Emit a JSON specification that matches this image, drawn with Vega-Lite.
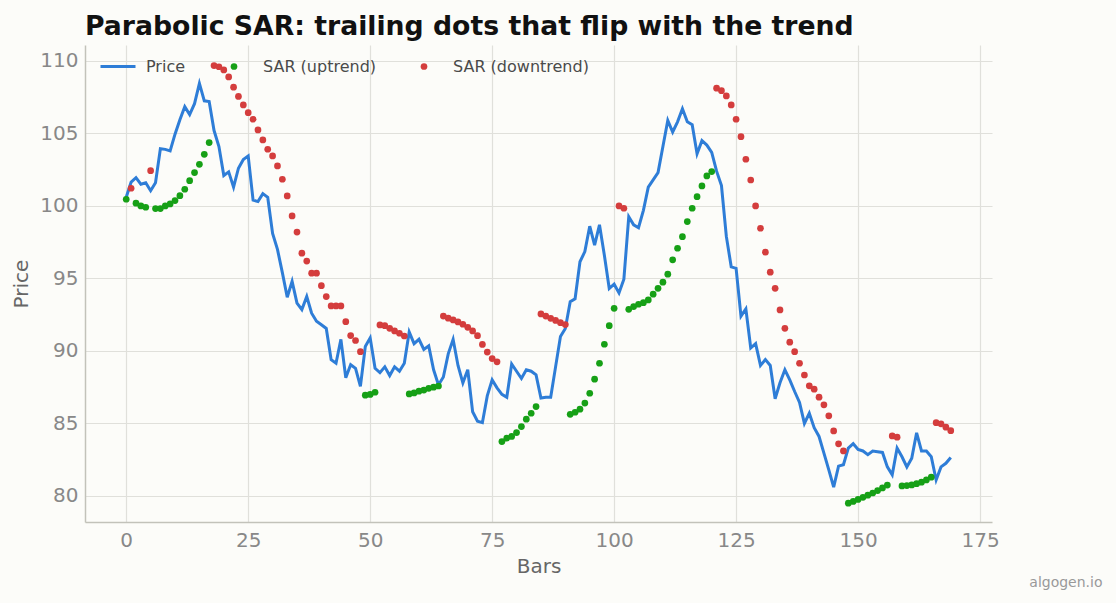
{
  "$schema": "https://vega.github.io/schema/vega-lite/v6.json",
  "autosize": {"type": "none"},
  "width": 907,
  "height": 477,
  "padding": {"left": 85, "top": 45, "right": 124, "bottom": 81},
  "background": "#fcfcf9",
  "title": {
    "text": "Parabolic SAR: trailing dots that flip with the trend",
    "anchor": "start",
    "frame": "group",
    "font": "DejaVu Sans",
    "fontSize": 26.7,
    "fontWeight": "bold",
    "color": "#111111",
    "offset": 4
  },
  "config": {
    "view": {"stroke": null},
    "font": "DejaVu Sans",
    "axis": {
      "labelFont": "DejaVu Sans",
      "titleFont": "DejaVu Sans",
      "labelFontSize": 20,
      "titleFontSize": 20,
      "labelColor": "#888888",
      "titleColor": "#666666",
      "titleFontWeight": "normal",
      "gridColor": "#e0e0db",
      "gridWidth": 1.2,
      "domainColor": "#c2c2ba",
      "domainWidth": 1.5,
      "ticks": false
    },
    "legend": {
      "labelFont": "DejaVu Sans",
      "labelFontSize": 16,
      "labelColor": "#4a4a4a",
      "padding": 0,
      "title": null
    }
  },
  "data": {
    "values": [
      {"bar":0,"price":100.6,"sar":100.46,"trend":"SAR (uptrend)"},
      {"bar":1,"price":101.65,"sar":101.22,"trend":"SAR (downtrend)"},
      {"bar":2,"price":101.95,"sar":100.19,"trend":"SAR (uptrend)"},
      {"bar":3,"price":101.5,"sar":100.0,"trend":"SAR (uptrend)"},
      {"bar":4,"price":101.6,"sar":99.91,"trend":"SAR (uptrend)"},
      {"bar":5,"price":101.05,"sar":102.43,"trend":"SAR (downtrend)"},
      {"bar":6,"price":101.6,"sar":99.82,"trend":"SAR (uptrend)"},
      {"bar":7,"price":103.95,"sar":99.82,"trend":"SAR (uptrend)"},
      {"bar":8,"price":103.9,"sar":100.0,"trend":"SAR (uptrend)"},
      {"bar":9,"price":103.8,"sar":100.14,"trend":"SAR (uptrend)"},
      {"bar":10,"price":104.95,"sar":100.37,"trend":"SAR (uptrend)"},
      {"bar":11,"price":105.95,"sar":100.71,"trend":"SAR (uptrend)"},
      {"bar":12,"price":106.85,"sar":101.15,"trend":"SAR (uptrend)"},
      {"bar":13,"price":106.3,"sar":101.74,"trend":"SAR (uptrend)"},
      {"bar":14,"price":107.05,"sar":102.3,"trend":"SAR (uptrend)"},
      {"bar":15,"price":108.45,"sar":102.87,"trend":"SAR (uptrend)"},
      {"bar":16,"price":107.25,"sar":103.56,"trend":"SAR (uptrend)"},
      {"bar":17,"price":107.2,"sar":104.37,"trend":"SAR (uptrend)"},
      {"bar":18,"price":105.2,"sar":109.68,"trend":"SAR (downtrend)"},
      {"bar":19,"price":104.1,"sar":109.6,"trend":"SAR (downtrend)"},
      {"bar":20,"price":102.1,"sar":109.38,"trend":"SAR (downtrend)"},
      {"bar":21,"price":102.35,"sar":108.9,"trend":"SAR (downtrend)"},
      {"bar":22,"price":101.3,"sar":108.19,"trend":"SAR (downtrend)"},
      {"bar":23,"price":102.6,"sar":107.55,"trend":"SAR (downtrend)"},
      {"bar":24,"price":103.2,"sar":106.97,"trend":"SAR (downtrend)"},
      {"bar":25,"price":103.45,"sar":106.43,"trend":"SAR (downtrend)"},
      {"bar":26,"price":100.4,"sar":105.98,"trend":"SAR (downtrend)"},
      {"bar":27,"price":100.3,"sar":105.24,"trend":"SAR (downtrend)"},
      {"bar":28,"price":100.85,"sar":104.55,"trend":"SAR (downtrend)"},
      {"bar":29,"price":100.6,"sar":103.91,"trend":"SAR (downtrend)"},
      {"bar":30,"price":98.1,"sar":103.45,"trend":"SAR (downtrend)"},
      {"bar":31,"price":97.0,"sar":102.76,"trend":"SAR (downtrend)"},
      {"bar":32,"price":95.4,"sar":101.84,"trend":"SAR (downtrend)"},
      {"bar":33,"price":93.7,"sar":100.69,"trend":"SAR (downtrend)"},
      {"bar":34,"price":94.8,"sar":99.31,"trend":"SAR (downtrend)"},
      {"bar":35,"price":93.3,"sar":98.2,"trend":"SAR (downtrend)"},
      {"bar":36,"price":92.85,"sar":96.74,"trend":"SAR (downtrend)"},
      {"bar":37,"price":93.75,"sar":96.2,"trend":"SAR (downtrend)"},
      {"bar":38,"price":92.6,"sar":95.36,"trend":"SAR (downtrend)"},
      {"bar":39,"price":92.05,"sar":95.36,"trend":"SAR (downtrend)"},
      {"bar":40,"price":91.8,"sar":94.5,"trend":"SAR (downtrend)"},
      {"bar":41,"price":91.55,"sar":93.75,"trend":"SAR (downtrend)"},
      {"bar":42,"price":89.4,"sar":93.1,"trend":"SAR (downtrend)"},
      {"bar":43,"price":89.15,"sar":93.1,"trend":"SAR (downtrend)"},
      {"bar":44,"price":90.8,"sar":93.1,"trend":"SAR (downtrend)"},
      {"bar":45,"price":88.15,"sar":92.02,"trend":"SAR (downtrend)"},
      {"bar":46,"price":89.05,"sar":91.06,"trend":"SAR (downtrend)"},
      {"bar":47,"price":88.8,"sar":90.72,"trend":"SAR (downtrend)"},
      {"bar":48,"price":87.55,"sar":89.95,"trend":"SAR (downtrend)"},
      {"bar":49,"price":90.3,"sar":86.95,"trend":"SAR (uptrend)"},
      {"bar":50,"price":90.9,"sar":87.0,"trend":"SAR (uptrend)"},
      {"bar":51,"price":88.8,"sar":87.15,"trend":"SAR (uptrend)"},
      {"bar":52,"price":88.5,"sar":91.79,"trend":"SAR (downtrend)"},
      {"bar":53,"price":88.9,"sar":91.74,"trend":"SAR (downtrend)"},
      {"bar":54,"price":88.3,"sar":91.56,"trend":"SAR (downtrend)"},
      {"bar":55,"price":88.9,"sar":91.38,"trend":"SAR (downtrend)"},
      {"bar":56,"price":88.6,"sar":91.22,"trend":"SAR (downtrend)"},
      {"bar":57,"price":89.15,"sar":91.03,"trend":"SAR (downtrend)"},
      {"bar":58,"price":91.3,"sar":87.03,"trend":"SAR (uptrend)"},
      {"bar":59,"price":90.5,"sar":87.1,"trend":"SAR (uptrend)"},
      {"bar":60,"price":90.8,"sar":87.22,"trend":"SAR (uptrend)"},
      {"bar":61,"price":90.1,"sar":87.3,"trend":"SAR (uptrend)"},
      {"bar":62,"price":90.35,"sar":87.42,"trend":"SAR (uptrend)"},
      {"bar":63,"price":88.7,"sar":87.5,"trend":"SAR (uptrend)"},
      {"bar":64,"price":87.65,"sar":87.58,"trend":"SAR (uptrend)"},
      {"bar":65,"price":88.2,"sar":92.4,"trend":"SAR (downtrend)"},
      {"bar":66,"price":89.8,"sar":92.26,"trend":"SAR (downtrend)"},
      {"bar":67,"price":90.8,"sar":92.14,"trend":"SAR (downtrend)"},
      {"bar":68,"price":89.0,"sar":92.0,"trend":"SAR (downtrend)"},
      {"bar":69,"price":87.8,"sar":91.84,"trend":"SAR (downtrend)"},
      {"bar":70,"price":88.7,"sar":91.63,"trend":"SAR (downtrend)"},
      {"bar":71,"price":85.8,"sar":91.38,"trend":"SAR (downtrend)"},
      {"bar":72,"price":85.15,"sar":91.05,"trend":"SAR (downtrend)"},
      {"bar":73,"price":85.05,"sar":90.45,"trend":"SAR (downtrend)"},
      {"bar":74,"price":86.9,"sar":89.92,"trend":"SAR (downtrend)"},
      {"bar":75,"price":88.0,"sar":89.47,"trend":"SAR (downtrend)"},
      {"bar":76,"price":87.45,"sar":89.25,"trend":"SAR (downtrend)"},
      {"bar":77,"price":87.0,"sar":83.75,"trend":"SAR (uptrend)"},
      {"bar":78,"price":86.8,"sar":83.98,"trend":"SAR (uptrend)"},
      {"bar":79,"price":89.1,"sar":84.1,"trend":"SAR (uptrend)"},
      {"bar":80,"price":88.6,"sar":84.37,"trend":"SAR (uptrend)"},
      {"bar":81,"price":88.1,"sar":84.78,"trend":"SAR (uptrend)"},
      {"bar":82,"price":88.7,"sar":85.29,"trend":"SAR (uptrend)"},
      {"bar":83,"price":88.6,"sar":85.7,"trend":"SAR (uptrend)"},
      {"bar":84,"price":88.35,"sar":86.16,"trend":"SAR (uptrend)"},
      {"bar":85,"price":86.75,"sar":92.55,"trend":"SAR (downtrend)"},
      {"bar":86,"price":86.8,"sar":92.4,"trend":"SAR (downtrend)"},
      {"bar":87,"price":86.8,"sar":92.25,"trend":"SAR (downtrend)"},
      {"bar":88,"price":88.9,"sar":92.1,"trend":"SAR (downtrend)"},
      {"bar":89,"price":91.0,"sar":91.95,"trend":"SAR (downtrend)"},
      {"bar":90,"price":91.55,"sar":91.82,"trend":"SAR (downtrend)"},
      {"bar":91,"price":93.4,"sar":85.63,"trend":"SAR (uptrend)"},
      {"bar":92,"price":93.6,"sar":85.77,"trend":"SAR (uptrend)"},
      {"bar":93,"price":96.15,"sar":85.98,"trend":"SAR (uptrend)"},
      {"bar":94,"price":96.85,"sar":86.4,"trend":"SAR (uptrend)"},
      {"bar":95,"price":98.6,"sar":87.08,"trend":"SAR (uptrend)"},
      {"bar":96,"price":97.3,"sar":88.05,"trend":"SAR (uptrend)"},
      {"bar":97,"price":98.7,"sar":89.15,"trend":"SAR (uptrend)"},
      {"bar":98,"price":96.6,"sar":90.46,"trend":"SAR (uptrend)"},
      {"bar":99,"price":94.3,"sar":91.74,"trend":"SAR (uptrend)"},
      {"bar":100,"price":94.6,"sar":92.94,"trend":"SAR (uptrend)"},
      {"bar":101,"price":94.0,"sar":100.0,"trend":"SAR (downtrend)"},
      {"bar":102,"price":94.95,"sar":99.84,"trend":"SAR (downtrend)"},
      {"bar":103,"price":99.25,"sar":92.87,"trend":"SAR (uptrend)"},
      {"bar":104,"price":98.7,"sar":93.06,"trend":"SAR (uptrend)"},
      {"bar":105,"price":98.5,"sar":93.22,"trend":"SAR (uptrend)"},
      {"bar":106,"price":99.7,"sar":93.33,"trend":"SAR (uptrend)"},
      {"bar":107,"price":101.3,"sar":93.52,"trend":"SAR (uptrend)"},
      {"bar":108,"price":101.8,"sar":93.91,"trend":"SAR (uptrend)"},
      {"bar":109,"price":102.3,"sar":94.32,"trend":"SAR (uptrend)"},
      {"bar":110,"price":104.1,"sar":94.74,"trend":"SAR (uptrend)"},
      {"bar":111,"price":105.9,"sar":95.29,"trend":"SAR (uptrend)"},
      {"bar":112,"price":105.1,"sar":96.28,"trend":"SAR (uptrend)"},
      {"bar":113,"price":105.8,"sar":97.08,"trend":"SAR (uptrend)"},
      {"bar":114,"price":106.7,"sar":97.88,"trend":"SAR (uptrend)"},
      {"bar":115,"price":105.8,"sar":98.92,"trend":"SAR (uptrend)"},
      {"bar":116,"price":105.6,"sar":99.84,"trend":"SAR (uptrend)"},
      {"bar":117,"price":103.6,"sar":100.64,"trend":"SAR (uptrend)"},
      {"bar":118,"price":104.5,"sar":101.38,"trend":"SAR (uptrend)"},
      {"bar":119,"price":104.2,"sar":102.07,"trend":"SAR (uptrend)"},
      {"bar":120,"price":103.7,"sar":102.37,"trend":"SAR (uptrend)"},
      {"bar":121,"price":102.4,"sar":108.12,"trend":"SAR (downtrend)"},
      {"bar":122,"price":101.4,"sar":107.95,"trend":"SAR (downtrend)"},
      {"bar":123,"price":97.9,"sar":107.59,"trend":"SAR (downtrend)"},
      {"bar":124,"price":95.8,"sar":106.97,"trend":"SAR (downtrend)"},
      {"bar":125,"price":95.7,"sar":105.98,"trend":"SAR (downtrend)"},
      {"bar":126,"price":92.4,"sar":104.78,"trend":"SAR (downtrend)"},
      {"bar":127,"price":92.9,"sar":103.22,"trend":"SAR (downtrend)"},
      {"bar":128,"price":90.2,"sar":101.79,"trend":"SAR (downtrend)"},
      {"bar":129,"price":90.5,"sar":100.0,"trend":"SAR (downtrend)"},
      {"bar":130,"price":89.0,"sar":98.46,"trend":"SAR (downtrend)"},
      {"bar":131,"price":89.4,"sar":96.81,"trend":"SAR (downtrend)"},
      {"bar":132,"price":89.0,"sar":95.43,"trend":"SAR (downtrend)"},
      {"bar":133,"price":86.7,"sar":94.32,"trend":"SAR (downtrend)"},
      {"bar":134,"price":87.8,"sar":92.83,"trend":"SAR (downtrend)"},
      {"bar":135,"price":88.7,"sar":91.56,"trend":"SAR (downtrend)"},
      {"bar":136,"price":88.0,"sar":90.6,"trend":"SAR (downtrend)"},
      {"bar":137,"price":87.2,"sar":89.95,"trend":"SAR (downtrend)"},
      {"bar":138,"price":86.45,"sar":89.15,"trend":"SAR (downtrend)"},
      {"bar":139,"price":85.0,"sar":88.34,"trend":"SAR (downtrend)"},
      {"bar":140,"price":85.7,"sar":87.59,"trend":"SAR (downtrend)"},
      {"bar":141,"price":84.7,"sar":87.36,"trend":"SAR (downtrend)"},
      {"bar":142,"price":84.1,"sar":86.81,"trend":"SAR (downtrend)"},
      {"bar":143,"price":82.95,"sar":86.28,"trend":"SAR (downtrend)"},
      {"bar":144,"price":81.8,"sar":85.52,"trend":"SAR (downtrend)"},
      {"bar":145,"price":80.6,"sar":84.48,"trend":"SAR (downtrend)"},
      {"bar":146,"price":82.05,"sar":83.59,"trend":"SAR (downtrend)"},
      {"bar":147,"price":82.15,"sar":83.1,"trend":"SAR (downtrend)"},
      {"bar":148,"price":83.3,"sar":79.5,"trend":"SAR (uptrend)"},
      {"bar":149,"price":83.6,"sar":79.62,"trend":"SAR (uptrend)"},
      {"bar":150,"price":83.2,"sar":79.76,"trend":"SAR (uptrend)"},
      {"bar":151,"price":83.1,"sar":79.9,"trend":"SAR (uptrend)"},
      {"bar":152,"price":82.85,"sar":80.05,"trend":"SAR (uptrend)"},
      {"bar":153,"price":83.1,"sar":80.2,"trend":"SAR (uptrend)"},
      {"bar":154,"price":83.05,"sar":80.37,"trend":"SAR (uptrend)"},
      {"bar":155,"price":83.0,"sar":80.55,"trend":"SAR (uptrend)"},
      {"bar":156,"price":82.0,"sar":80.75,"trend":"SAR (uptrend)"},
      {"bar":157,"price":81.45,"sar":84.14,"trend":"SAR (downtrend)"},
      {"bar":158,"price":83.3,"sar":84.05,"trend":"SAR (downtrend)"},
      {"bar":159,"price":82.7,"sar":80.69,"trend":"SAR (uptrend)"},
      {"bar":160,"price":82.0,"sar":80.71,"trend":"SAR (uptrend)"},
      {"bar":161,"price":82.6,"sar":80.76,"trend":"SAR (uptrend)"},
      {"bar":162,"price":84.35,"sar":80.84,"trend":"SAR (uptrend)"},
      {"bar":163,"price":83.1,"sar":80.95,"trend":"SAR (uptrend)"},
      {"bar":164,"price":83.1,"sar":81.1,"trend":"SAR (uptrend)"},
      {"bar":165,"price":82.7,"sar":81.29,"trend":"SAR (uptrend)"},
      {"bar":166,"price":81.1,"sar":85.05,"trend":"SAR (downtrend)"},
      {"bar":167,"price":82.0,"sar":84.97,"trend":"SAR (downtrend)"},
      {"bar":168,"price":82.25,"sar":84.74,"trend":"SAR (downtrend)"},
      {"bar":169,"price":82.65,"sar":84.5,"trend":"SAR (downtrend)"}
    ]
  },
  "resolve": {"axis": {"y": "independent"}},
  "layer": [
    {
      "mark": {"type": "line", "strokeWidth": 3, "clip": true},
      "encoding": {
        "x": {
          "field": "bar", "type": "quantitative",
          "scale": {"domain": [-8.45, 177.45], "nice": false, "zero": false},
          "axis": {"title": "Bars", "values": [0,25,50,75,100,125,150,175], "labelPadding": 8, "titlePadding": 6, "grid": true}
        },
        "y": {
          "field": "price", "type": "quantitative",
          "scale": {"domain": [78.2, 111.1], "nice": false, "zero": false},
          "axis": {"title": "Price", "values": [80,85,90,95,100,105,110], "labelPadding": 7, "titlePadding": 8, "grid": true}
        },
        "stroke": {
          "datum": "Price",
          "type": "nominal",
          "scale": {"domain": ["Price"], "range": ["#2e7dd7"]},
          "legend": {
            "orient": "none",
            "legendX": 14,
            "legendY": 2.5,
            "direction": "horizontal",
            "symbolType": "stroke",
            "symbolSize": 1225,
            "symbolStrokeWidth": 3,
            "labelOffset": 9
          }
        }
      }
    },
    {
      "mark": {"type": "point", "filled": true, "size": 45, "opacity": 1, "strokeWidth": 0},
      "encoding": {
        "x": {"field": "bar", "type": "quantitative"},
        "y": {
          "field": "sar", "type": "quantitative",
          "axis": {
            "orient": "right", "labels": false, "ticks": false, "domain": false, "grid": false,
            "title": "algogen.io", "titleAngle": 0, "titleAlign": "right", "titleBaseline": "alphabetic",
            "titleX": 110, "titleY": 541, "titleFontSize": 14, "titleColor": "#999999", "titleFontWeight": "normal"
          }
        },
        "color": {
          "field": "trend",
          "type": "nominal",
          "scale": {"domain": ["SAR (uptrend)", "SAR (downtrend)"], "range": ["#16a016", "#d43d3d"]},
          "legend": {
            "orient": "none",
            "legendX": 141,
            "legendY": 13.5,
            "direction": "horizontal",
            "symbolType": "circle",
            "symbolSize": 45,
            "symbolStrokeWidth": 0,
            "labelOffset": 21,
            "columnPadding": 39
          }
        }
      }
    }
  ]
}
